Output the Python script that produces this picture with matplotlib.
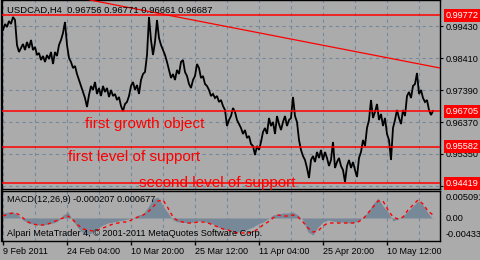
import numpy as np
import matplotlib
matplotlib.use('Agg')
import matplotlib.pyplot as plt
from matplotlib.transforms import blended_transform_factory

# ---------------- data ----------------
title_text = "USDCAD,H4  0.96756 0.96771 0.96661 0.96687"
macd_header = "MACD(12,26,9) -0.000207 0.000677"
footer_text = "Alpari MetaTrader 4, \u00a9 2001-2011 MetaQuotes Software Corp."

# close prices, one value every 2 H4 bars
close = [
    0.99303, 0.99494, 0.99398, 0.99589, 0.99494, 0.99717, 0.99621, 0.98824, 0.98601, 0.98729,
    0.98856, 0.98665, 0.98920, 0.98729, 0.98984, 0.98665, 0.98761, 0.98506, 0.98569, 0.98346,
    0.98474, 0.98283, 0.98506, 0.98378, 0.98601, 0.98219, 0.98601, 0.98474, 0.98824, 0.98984,
    0.99207, 0.99558, 0.98824, 0.98410, 0.98283, 0.98091, 0.98155, 0.97900, 0.97709, 0.97518,
    0.97326, 0.97135, 0.96848, 0.97231, 0.97518, 0.97390, 0.97645, 0.97263, 0.97454, 0.97199,
    0.97518, 0.97326, 0.97454, 0.97167, 0.97390, 0.97199, 0.97263, 0.97071, 0.97167, 0.96880,
    0.96721, 0.96944, 0.97008, 0.97199, 0.97518, 0.97645, 0.97390, 0.97549, 0.97263, 0.97709,
    0.97900, 0.97964, 0.98506, 0.99717, 0.98984, 0.98506, 0.98920, 0.99621, 0.99048, 0.98824,
    0.98665, 0.98506, 0.98283, 0.98028, 0.97773, 0.97900, 0.97709, 0.98028, 0.97900, 0.98283,
    0.98346, 0.97964, 0.97836, 0.97581, 0.97454, 0.97709, 0.97836, 0.98219, 0.98091, 0.97773,
    0.97836, 0.97581, 0.97518, 0.97390, 0.97199, 0.97263, 0.97135, 0.97199, 0.97008, 0.97071,
    0.96880, 0.96753, 0.96243, 0.96434, 0.96561, 0.96816, 0.96689, 0.96434, 0.96306, 0.96179,
    0.95988, 0.96115, 0.95860, 0.95924, 0.95669, 0.95605, 0.95318, 0.95605, 0.95478, 0.95733,
    0.96051, 0.96179, 0.95988, 0.96498, 0.96243, 0.96370, 0.95988, 0.96561, 0.96306, 0.96115,
    0.96370, 0.96561, 0.96243, 0.96434, 0.96498, 0.97167, 0.96561, 0.96370, 0.95796, 0.95478,
    0.95286, 0.95159, 0.94904, 0.94585, 0.95159, 0.95286, 0.95095, 0.95414, 0.95223, 0.95478,
    0.95159, 0.95414, 0.95223, 0.94968, 0.95159, 0.95733, 0.94904, 0.95095, 0.95223, 0.94968,
    0.94840, 0.94458, 0.94968, 0.95159, 0.94904, 0.95095, 0.94840, 0.94617, 0.95223, 0.95414,
    0.95796, 0.95605, 0.96179, 0.96434, 0.97071, 0.96498, 0.96689, 0.96944, 0.96434, 0.96625,
    0.96243, 0.96498, 0.95988, 0.95796, 0.95159, 0.96179, 0.96434, 0.96753, 0.96498, 0.96306,
    0.96753, 0.96561, 0.97199, 0.97326, 0.97135, 0.97518, 0.97581, 0.97932, 0.97263, 0.97390,
    0.97135, 0.97008, 0.97071, 0.96753, 0.96593, 0.96721,
]
close_step = 2

# MACD main (histogram) and signal, one value every 5 bars
macd_hist = [
    0.00102, 0.00123, 0.00123, 0.00061, -0.00041, -0.00102, -0.00123, -0.00143, -0.00143, -0.00123,
    -0.00102, -0.00061, 0.00061, 0.00123, -0.00061, -0.00205, -0.00307, -0.00348, -0.00287, -0.00205,
    -0.00143, -0.00102, -0.00082, -0.00061, -0.00041, -0.00020, 0.00000, 0.00061, 0.00082, 0.00225,
    0.00389, 0.00430, 0.00246, 0.00102, -0.00041, -0.00082, -0.00082, -0.00102, -0.00082, -0.00061,
    -0.00061, -0.00102, -0.00123, -0.00184, -0.00225, -0.00246, -0.00266, -0.00287, -0.00266, -0.00225,
    -0.00184, -0.00123, -0.00082, -0.00020, 0.00061, 0.00082, 0.00102, 0.00102, 0.00123, 0.00061,
    -0.00041, -0.00287, -0.00348, -0.00184, -0.00082, -0.00041, -0.00061, -0.00082, -0.00082, -0.00102,
    -0.00102, -0.00061, 0.00020, 0.00123, 0.00287, 0.00410, 0.00246, 0.00123, -0.00061, -0.00020,
    0.00041, 0.00143, 0.00246, 0.00348, 0.00266, 0.00102, -0.00020,
]
macd_signal = [
    0.00041, 0.00082, 0.00102, 0.00082, 0.00000, -0.00082, -0.00123, -0.00143, -0.00143, -0.00123,
    -0.00082, -0.00041, 0.00000, 0.00041, -0.00041, -0.00143, -0.00225, -0.00246, -0.00266, -0.00246,
    -0.00205, -0.00164, -0.00123, -0.00102, -0.00082, -0.00082, -0.00020, 0.00020, 0.00061, 0.00123,
    0.00225, 0.00348, 0.00369, 0.00205, 0.00020, -0.00061, -0.00082, -0.00102, -0.00102, -0.00082,
    -0.00082, -0.00102, -0.00143, -0.00184, -0.00225, -0.00246, -0.00287, -0.00307, -0.00307, -0.00307,
    -0.00287, -0.00225, -0.00143, -0.00082, 0.00000, 0.00061, 0.00041, 0.00041, 0.00061, 0.00020,
    -0.00082, -0.00205, -0.00287, -0.00266, -0.00164, -0.00102, -0.00102, -0.00102, -0.00102, -0.00102,
    -0.00102, -0.00082, -0.00020, 0.00102, 0.00225, 0.00348, 0.00348, 0.00164, 0.00020, -0.00020,
    0.00020, 0.00164, 0.00266, 0.00369, 0.00287, 0.00143, 0.00061,
]
macd_step = 5

level_prices = [0.99772, 0.96705, 0.95582, 0.94419]
level_labels = ["0.99772", "0.96705", "0.95582", "0.94419"]
price_ticks = [0.99430, 0.98410, 0.97390, 0.96370, 0.95350, 0.94330]
price_tick_labels = ["0.99430", "0.98410", "0.97390", "0.96370", "0.95350", ""]

trend_bars = [87, 437]
trend_prices = [1.00259, 0.98091]

date_bars = [0, 64, 128, 192, 256, 320, 384]
date_labels = ["9 Feb 2011", "24 Feb 04:00", "10 Mar 20:00", "25 Mar 12:00",
               "11 Apr 04:00", "25 Apr 20:00", "10 May 12:00"]

annotations = [
    ("first growth object", 82, 0.96179),
    ("first level of support", 65, 0.95127),
    ("second level of support", 136, 0.94298),
]

macd_scale_values = [0.005091, 0.0, -0.00433]
macd_scale_labels = ["0.005091", "0.00", "-0.00433"]

# ---------------- style ----------------
BG = '#ababab'
GRID = '#778899'
FONT = ['Liberation Sans', 'DejaVu Sans']
plt.rcParams['font.family'] = FONT

W, H = 480, 260
fig = plt.figure(figsize=(W / 100, H / 100), dpi=100)
fig.patch.set_facecolor(BG)

def fx(px):
    return px / W

def fy(py):
    return 1 - py / H

main_top, main_bot = 0.0, 188.5
macd_top, macd_bot = 190.5, 241.0
left_px, right_px = 2.0, 440.0

ax = fig.add_axes([fx(left_px), fy(main_bot), fx(right_px - left_px), (main_bot - main_top) / H])
ax2 = fig.add_axes([fx(left_px), fy(macd_bot), fx(right_px - left_px), (macd_bot - macd_top) / H])

for a in (ax, ax2):
    a.set_facecolor(BG)
    for s in a.spines.values():
        s.set_color('black')
        s.set_linewidth(1.0)
    a.spines['left'].set_linewidth(1.6)
    a.set_xlim(-1, 437)

ax.set_ylim(0.942503, 1.002588)

# grid
grid_bars = np.arange(0, 437, 32)
for a in (ax, ax2):
    for gb in grid_bars:
        a.axvline(gb, color=GRID, lw=0.8, ls=(0, (3, 3)), zorder=0.5)
for p in price_ticks:
    ax.axhline(p, color=GRID, lw=0.8, ls=(0, (3, 3)), zorder=0.5)

# price line
bars = np.arange(len(close)) * close_step
ax.plot(bars, close, color='black', lw=1.3, zorder=3, solid_joinstyle='miter')

# horizontal levels
for p in level_prices:
    ax.axhline(p, color='#ff0000', lw=1.1, zorder=4)

# trend line
ax.plot(trend_bars, trend_prices, color='#ff0000', lw=0.9, zorder=4)

# annotations
for txt, b, p in annotations:
    ax.text(b, p, txt, color='#ff0000', fontsize=11, ha='left', va='baseline',
            zorder=5, family=FONT)

# right price scale
ax.yaxis.tick_right()
ax.set_yticks(price_ticks)
ax.set_yticklabels(price_tick_labels)
ax.tick_params(axis='y', right=True, left=False, length=2.2, width=0.8, pad=2.2,
               labelsize=6.6, colors='black')
ax.set_xticks([])

trans = blended_transform_factory(ax.transAxes, ax.transData)
for p, lab in zip(level_prices, level_labels):
    ax.text(1.0 + 6.0 / (right_px - left_px), p, lab, transform=trans, color='white',
            fontsize=6.6, ha='left', va='center', clip_on=False, zorder=6,
            bbox=dict(boxstyle='square,pad=0.22', fc='#ff0000', ec='#ff0000', lw=0))

# title
fig.text(fx(7), fy(10), title_text, fontsize=6.8, color='black', ha='left', va='center')

# MACD panel
mbars = np.arange(len(macd_hist)) * macd_step
ax2.set_ylim(-0.00471, 0.005632)
ax2.fill_between(mbars, 0, macd_hist, color=GRID, lw=0, zorder=1)
ax2.plot(mbars, macd_signal, color='#ff0000', lw=1.0, ls=(0, (2.5, 2.5)), zorder=3)
ax2.set_yticks([])
trans2 = blended_transform_factory(ax2.transAxes, ax2.transData)
vas = ['top', 'center', 'bottom']
for v, lab, va in zip(macd_scale_values, macd_scale_labels, vas):
    ax2.text(1.0 + 6.0 / (right_px - left_px), v, lab, transform=trans2, fontsize=6.6,
             color='black', ha='left', va=va, clip_on=False)
ax2.text(5 / (right_px - left_px), 0.812, macd_header, transform=ax2.transAxes,
         fontsize=6.6, color='black', ha='left', va='center')
ax2.text(5 / (right_px - left_px), 0.158, footer_text, transform=ax2.transAxes,
         fontsize=6.6, color='black', ha='left', va='center')

ax2.set_xticks(date_bars)
ax2.set_xticklabels(date_labels)
for lbl in ax2.get_xticklabels():
    lbl.set_horizontalalignment('left')
ax2.tick_params(axis='x', length=3, width=1.0, pad=1.0, labelsize=6.5, colors='black')

fig.savefig('out.png', dpi=100, facecolor=BG)
